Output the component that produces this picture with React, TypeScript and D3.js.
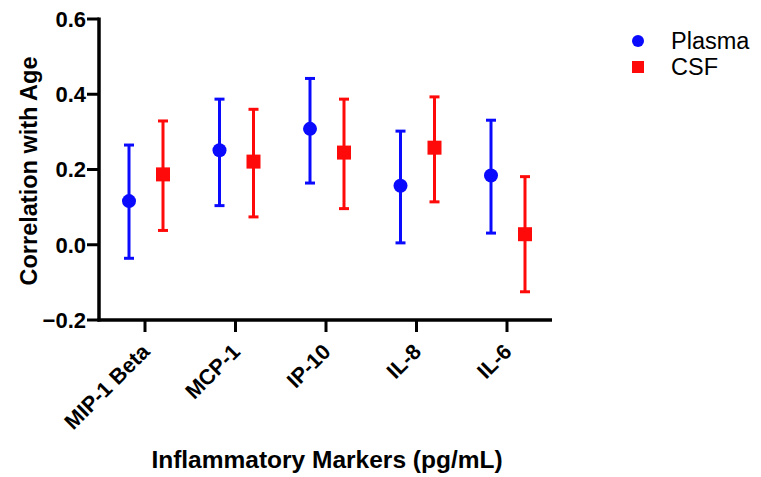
import React from "react"
import * as d3 from "d3"

// markers on the x axis
const markers = ["MIP-1 Beta", "MCP-1", "IP-10", "IL-8", "IL-6"]

// plasma: point estimate with CI bounds
const plasmaMid = [0.116, 0.251, 0.308, 0.157, 0.184]
const plasmaLow = [-0.036, 0.104, 0.164, 0.005, 0.031]
const plasmaHigh = [0.265, 0.387, 0.442, 0.302, 0.331]

// CSF: point estimate with CI bounds
const csfMid = [0.187, 0.221, 0.245, 0.258, 0.028]
const csfLow = [0.038, 0.074, 0.096, 0.114, -0.125]
const csfHigh = [0.329, 0.36, 0.387, 0.393, 0.181]

const yTicks = [-0.2, 0.0, 0.2, 0.4, 0.6]

const W = 761
const H = 477
const FONT = "'Liberation Sans', Arial, sans-serif"

export default function App() {
    const left = 99
    const right = 552
    const top = 19
    const bottom = 320

    const y = d3.scaleLinear().domain([-0.2, 0.6]).range([bottom, top])
    const x = d3
        .scalePoint()
        .domain(markers)
        .range([145, 507])

    const series = [
        { name: "Plasma", color: "#0a0aff", mid: plasmaMid, low: plasmaLow, high: plasmaHigh, dx: -16, shape: "circle" },
        { name: "CSF", color: "#ff0a0a", mid: csfMid, low: csfLow, high: csfHigh, dx: 18, shape: "square" },
    ]

    return (
        <svg
            width={W}
            height={H}
            style={{ position: "absolute", left: 0, top: 0, background: "#fff" }}
        >
            {/* error bars + points */}
            {series.map((s) => (
                <g key={s.name}>
                    {markers.map((m, i) => {
                        const cx = (x(m) ?? 0) + s.dx
                        return (
                            <g key={m}>
                                <line x1={cx} x2={cx} y1={y(s.low[i])} y2={y(s.high[i])} stroke={s.color} strokeWidth={3} />
                                <line x1={cx - 5} x2={cx + 5} y1={y(s.low[i])} y2={y(s.low[i])} stroke={s.color} strokeWidth={3} />
                                <line x1={cx - 5} x2={cx + 5} y1={y(s.high[i])} y2={y(s.high[i])} stroke={s.color} strokeWidth={3} />
                                {s.shape === "circle" ? (
                                    <circle cx={cx} cy={y(s.mid[i])} r={7} fill={s.color} />
                                ) : (
                                    <rect x={cx - 7} y={y(s.mid[i]) - 7} width={14} height={14} fill={s.color} />
                                )}
                            </g>
                        )
                    })}
                </g>
            ))}

            {/* y axis */}
            <line x1={left} x2={left} y1={top - 1.5} y2={bottom + 1.5} stroke="#000" strokeWidth={3.5} />
            {yTicks.map((t) => (
                <g key={t}>
                    <line x1={left - 12} x2={left} y1={y(t)} y2={y(t)} stroke="#000" strokeWidth={3} />
                    <text
                        x={left - 13}
                        y={y(t)}
                        dy="0.36em"
                        textAnchor="end"
                        fontFamily={FONT}
                        fontWeight="bold"
                        fontSize={22}
                    >
                        {d3.format(".1f")(t)}
                    </text>
                </g>
            ))}
            <text
                transform={`translate(37,171) rotate(-90)`}
                textAnchor="middle"
                fontFamily={FONT}
                fontWeight="bold"
                fontSize={23.5}
            >
                Correlation with Age
            </text>

            {/* x axis */}
            <line x1={left - 1.5} x2={right} y1={bottom} y2={bottom} stroke="#000" strokeWidth={3.5} />
            {markers.map((m) => (
                <g key={m} transform={`translate(${x(m)},${bottom})`}>
                    <line y1={0} y2={12} stroke="#000" strokeWidth={3} />
                    <text
                        transform="translate(6,33) rotate(-45)"
                        textAnchor="end"
                        fontFamily={FONT}
                        fontWeight="bold"
                        fontSize={21.5}
                    >
                        {m}
                    </text>
                </g>
            ))}
            <text
                x={327}
                y={468}
                textAnchor="middle"
                fontFamily={FONT}
                fontWeight="bold"
                fontSize={24.5}
            >
                Inflammatory Markers (pg/mL)
            </text>

            {/* legend */}
            {series.map((s, i) => (
                <g key={s.name} transform={`translate(638,${41 + i * 26})`}>
                    {s.shape === "circle" ? (
                        <circle r={6} fill={s.color} />
                    ) : (
                        <rect x={-6} y={-6} width={12} height={12} fill={s.color} />
                    )}
                    <text x={33} dy="0.36em" fontFamily={FONT} fontSize={23.5}>
                        {s.name}
                    </text>
                </g>
            ))}
        </svg>
    )
}
